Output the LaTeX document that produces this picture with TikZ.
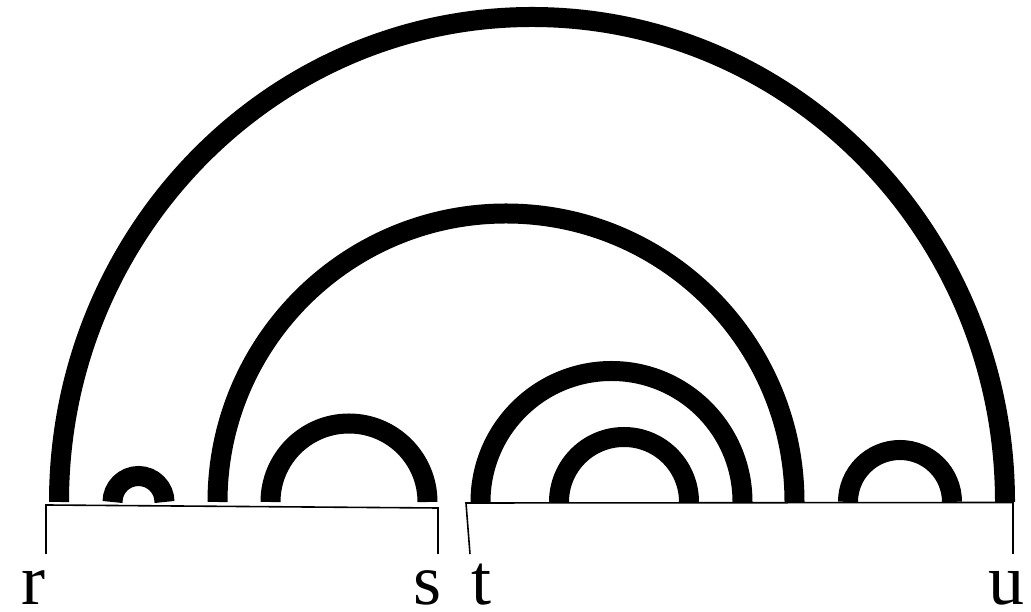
\documentclass[tikz,border=0pt]{standalone}
\usepackage{fontspec}
\setmainfont{Liberation Serif}
\usepackage{tikz}
\usetikzlibrary{positioning,calc}

\begin{document}
\begin{tikzpicture}[
      x=1pt, y=1pt,
      bond/.style={line width=20pt, line cap=butt},
      brk/.style={line width=1.6pt},
      lbl/.style={font=\fontsize{72}{72}\selectfont, inner sep=0pt, anchor=base}
  ]
    \useasboundingbox (0,0) rectangle (1031,612);
    % outer arc, slightly taller than wide
    \draw[bond] (59,110) arc[start angle=180, end angle=0, x radius=473, y radius=485];
    % remaining arcs: left foot / radius
    \foreach \xa/\rr in {112.5/26, 217.5/288.5, 270.5/78.5, 480.5/131, 559/65, 848/52}
      \draw[bond] (\xa,110) arc[start angle=180, end angle=0, radius=\rr];
    % brackets
    \coordinate (r0) at (46,58);
    \coordinate (r1) at (46,107);
    \coordinate (s1) at (438,104);
    \coordinate (s0) at (438,58);
    \coordinate (t0) at (470,58);
    \coordinate (t1) at (466,109);
    \coordinate (u1) at (1013,109.5);
    \coordinate (u0) at (1013,58);
    \draw[brk] (r0) -- (r1) -- (s1) -- (s0);
    \draw[brk] (t0) -- (t1) -- (u1) -- (u0);
    \node[lbl] (r) at (33.5,7) {r};
    \node[lbl] (s) at (427.5,7) {s};
    \node[lbl] (t) at (481,7) {t};
    \node[lbl] (u) at (1006,7) {u};
  \end{tikzpicture}
\end{document}
